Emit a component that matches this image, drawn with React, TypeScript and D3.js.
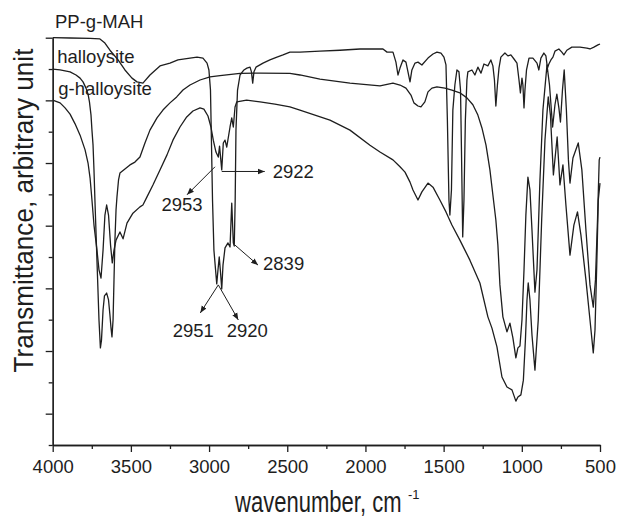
import React, { useRef, useEffect } from 'react';
import { select, scaleLinear, axisBottom, axisLeft, line } from 'd3';

// spectra: [wavenumber (cm-1), transmittance (arbitrary unit)]
const ppgMah: [number, number][] = [
	[4000, 1.2], [3889, 1.199], [3761, 1.198], [3698, 1.196], [3666, 1.183], [3634, 1.16],
	[3582, 1.129], [3538, 1.097], [3493, 1.071], [3461, 1.059], [3423, 1.055], [3378, 1.081],
	[3314, 1.11], [3250, 1.119], [3199, 1.129], [3122, 1.135], [3077, 1.138], [3039, 1.135],
	[3013, 1.119], [3001, 1.097], [2991, 1.033], [2985, 0.873], [2978, 0.682], [2969, 0.522],
	[2951, 0.414], [2943, 0.459], [2935, 0.5], [2927, 0.452], [2919, 0.398], [2911, 0.474],
	[2898, 0.529], [2879, 0.545], [2866, 0.532], [2855, 0.672], [2845, 0.545], [2839, 0.535],
	[2833, 0.682], [2828, 0.905], [2818, 1.033], [2802, 1.081], [2777, 1.097], [2758, 1.103],
	[2738, 1.106], [2729, 1.091], [2721, 1.055], [2713, 1.091], [2700, 1.106], [2655, 1.119],
	[2611, 1.129], [2566, 1.138], [2527, 1.145], [2483, 1.154], [2419, 1.154], [2291, 1.157],
	[2163, 1.16], [2035, 1.164], [1888, 1.164], [1862, 1.154], [1824, 1.154], [1805, 1.122],
	[1792, 1.081], [1779, 1.103], [1760, 1.129], [1741, 1.122], [1728, 1.091], [1715, 1.059],
	[1703, 1.097], [1683, 1.119], [1664, 1.122], [1639, 1.113], [1600, 1.135], [1568, 1.148],
	[1543, 1.154], [1517, 1.151], [1498, 1.138], [1485, 1.113], [1476, 0.937], [1466, 0.682],
	[1460, 0.634], [1450, 0.714], [1441, 0.969], [1428, 1.049], [1415, 1.097], [1402, 1.091],
	[1392, 1.033], [1386, 0.842], [1378, 0.564], [1370, 0.682], [1361, 0.937], [1351, 1.065],
	[1345, 1.091], [1319, 1.097], [1300, 1.081], [1281, 1.106], [1261, 1.087], [1242, 1.116],
	[1217, 1.11], [1198, 1.129], [1185, 1.11], [1175, 1.065], [1166, 0.982], [1156, 1.049],
	[1146, 1.103], [1134, 1.138], [1108, 1.151], [1089, 1.142], [1070, 1.145], [1050, 1.132],
	[1031, 1.119], [1018, 1.065], [1009, 1.024], [999, 1.071], [993, 1.049], [986, 0.976],
	[980, 1.033], [970, 1.097], [954, 1.135], [929, 1.135], [903, 1.119], [891, 1.097],
	[878, 1.135], [859, 1.151], [846, 1.142], [836, 1.103], [827, 1.116], [814, 1.129],
	[801, 1.138], [788, 1.157], [763, 1.164], [744, 1.154], [731, 1.145], [712, 1.16],
	[680, 1.17], [628, 1.17], [584, 1.167], [564, 1.164], [539, 1.17], [513, 1.177], [500, 1.18],
];

const halloysite: [number, number][] = [
	[4000, 1.1], [3953, 1.097], [3889, 1.091], [3851, 1.081], [3825, 1.071], [3806, 1.059],
	[3787, 1.039], [3774, 1.02], [3765, 0.995], [3755, 0.953], [3749, 0.905], [3742, 0.857],
	[3736, 0.778], [3730, 0.682], [3717, 0.49], [3704, 0.299], [3695, 0.21], [3688, 0.235],
	[3678, 0.331], [3669, 0.376], [3655, 0.385], [3643, 0.363], [3634, 0.315], [3627, 0.273],
	[3621, 0.245], [3614, 0.299], [3608, 0.427], [3602, 0.554], [3595, 0.65], [3589, 0.692],
	[3579, 0.746], [3570, 0.768], [3538, 0.781], [3506, 0.794], [3474, 0.803], [3442, 0.819],
	[3410, 0.864], [3378, 0.905], [3333, 0.944], [3295, 0.969], [3250, 0.992], [3207, 1.011],
	[3167, 1.033], [3122, 1.049], [3058, 1.065], [2994, 1.075], [2930, 1.079], [2802, 1.086],
	[2674, 1.087], [2483, 1.086], [2419, 1.081], [2291, 1.068], [2099, 1.055], [1907, 1.046],
	[1824, 1.055], [1779, 1.049], [1741, 1.039], [1709, 1.017], [1690, 0.992], [1664, 0.982],
	[1645, 0.979], [1620, 0.995], [1600, 1.027], [1575, 1.039], [1543, 1.043], [1492, 1.039],
	[1447, 1.033], [1396, 1.024], [1351, 1.008], [1313, 0.986], [1281, 0.953], [1255, 0.912],
	[1229, 0.857], [1204, 0.778], [1185, 0.698], [1166, 0.618], [1153, 0.538], [1140, 0.411],
	[1121, 0.309], [1095, 0.261], [1076, 0.289], [1057, 0.242], [1038, 0.178], [1025, 0.21],
	[1012, 0.216], [999, 0.299], [986, 0.459], [974, 0.634], [961, 0.755], [948, 0.714],
	[935, 0.586], [916, 0.388], [903, 0.459], [884, 0.746], [865, 0.969], [839, 1.113],
	[823, 1.049], [803, 0.915], [788, 0.986], [776, 1.02], [763, 0.976], [753, 0.931],
	[740, 1.033], [729, 1.097], [715, 0.969], [702, 0.81], [692, 0.736], [673, 0.816],
	[639, 0.864], [616, 0.778], [590, 0.586], [564, 0.411], [543, 0.34], [529, 0.427],
	[516, 0.618], [505, 0.81], [500, 0.819],
];

const gHalloysite: [number, number][] = [
	[4000, 1.001], [3953, 0.992], [3921, 0.976], [3889, 0.956], [3857, 0.925], [3825, 0.889],
	[3793, 0.842], [3774, 0.8], [3761, 0.752], [3749, 0.682], [3736, 0.602], [3717, 0.522],
	[3704, 0.459], [3691, 0.433], [3678, 0.522], [3666, 0.634], [3655, 0.666], [3643, 0.634],
	[3630, 0.538], [3619, 0.481], [3608, 0.522], [3595, 0.554], [3570, 0.58], [3550, 0.558],
	[3525, 0.608], [3487, 0.64], [3442, 0.66], [3423, 0.666], [3397, 0.692], [3359, 0.73],
	[3314, 0.778], [3269, 0.826], [3231, 0.873], [3186, 0.915], [3143, 0.947], [3103, 0.966],
	[3058, 0.976], [3033, 0.972], [3007, 0.95], [2988, 0.915], [2973, 0.873], [2956, 0.835],
	[2941, 0.819], [2933, 0.854], [2919, 0.778], [2909, 0.864], [2898, 0.873], [2887, 0.851],
	[2866, 0.915], [2855, 0.944], [2845, 0.915], [2834, 0.979], [2823, 0.995], [2760, 1.001],
	[2674, 0.995], [2579, 0.988], [2483, 0.979], [2419, 0.969], [2227, 0.937], [2099, 0.905],
	[1971, 0.857], [1907, 0.835], [1824, 0.81], [1779, 0.788], [1747, 0.771], [1715, 0.739],
	[1696, 0.714], [1664, 0.682], [1639, 0.708], [1600, 0.736], [1568, 0.723], [1524, 0.682],
	[1485, 0.644], [1447, 0.602], [1396, 0.554], [1364, 0.522], [1332, 0.49], [1268, 0.417],
	[1217, 0.309], [1191, 0.273], [1159, 0.213], [1127, 0.117], [1095, 0.085], [1063, 0.076],
	[1038, 0.04], [1025, 0.053], [1006, 0.06], [990, 0.107], [977, 0.235], [967, 0.363],
	[959, 0.417], [948, 0.363], [935, 0.251], [916, 0.139], [895, 0.299], [873, 0.618],
	[852, 0.873], [831, 1.011], [817, 0.953], [798, 0.762], [774, 0.883], [756, 0.73],
	[737, 0.794], [718, 0.666], [692, 0.506], [667, 0.602], [644, 0.644], [622, 0.57],
	[590, 0.427], [564, 0.299], [543, 0.194], [532, 0.267], [520, 0.49], [511, 0.682], [500, 0.736],
];

const seriesNames = ['PP-g-MAH', 'halloysite', 'g-halloysite'];
const xMajorTicks = [4000, 3500, 3000, 2500, 2000, 1500, 1000, 500];
const xMinorTicks = [3750, 3250, 2750, 2250, 1750, 1250, 750];
const yMajorTicks = [0, 0.2, 0.4, 0.6, 0.8, 1.0, 1.2];
const yMinorTicks = [-0.1, 0.1, 0.3, 0.5, 0.7, 0.9, 1.1];

// peak annotations
const peakLabels = ['2953', '2922', '2839', '2951', '2920'];
const peakWavenumbers = [2962, 2919, 2834, 2941, 2941];
const peakValues = [0.788, 0.773, 0.538, 0.411, 0.411];

const FONT = '"Liberation Sans", Arial, Helvetica, sans-serif';
const INK = '#1e1e1e';

function App() {
	const width = 618;
	const height = 517;
	const svgRef = useRef(null);

	useEffect(() => {
		const svg = select(svgRef.current);
		svg.selectAll('*').remove();

		const x = scaleLinear().domain([4000, 500]).range([52.7, 600]);
		const y = scaleLinear().domain([-0.1, 1.2]).range([445, 37.7]);

		svg
			.append('defs')
			.append('marker')
			.attr('id', 'arrowHead')
			.attr('viewBox', '0 0 10 10')
			.attr('refX', 10)
			.attr('refY', 5)
			.attr('markerWidth', 7)
			.attr('markerHeight', 7)
			.attr('orient', 'auto')
			.append('path')
			.attr('d', 'M0,1 L10,5 L0,9 Z')
			.attr('fill', INK);

		const styleAxis = (g) => {
			g.select('.domain').attr('stroke', INK).attr('stroke-width', 1.3);
			g.selectAll('.tick line').attr('stroke', INK).attr('stroke-width', 1.3);
			g.selectAll('.tick text')
				.attr('fill', INK)
				.style('font-family', FONT)
				.style('font-size', '18.5px');
		};

		// x axis
		svg
			.append('g')
			.attr('transform', 'translate(0,445)')
			.call(axisBottom(x).tickValues(xMinorTicks).tickSize(4).tickSizeOuter(0).tickFormat(() => ''))
			.call(styleAxis);
		svg
			.append('g')
			.attr('transform', 'translate(0,445)')
			.call(axisBottom(x).tickValues(xMajorTicks).tickSize(7).tickSizeOuter(0).tickPadding(8).tickFormat((d) => `${d}`))
			.call(styleAxis);

		// y axis
		svg
			.append('g')
			.attr('transform', 'translate(52.7,0)')
			.call(axisLeft(y).tickValues(yMinorTicks).tickSize(4).tickSizeOuter(0).tickFormat(() => ''))
			.call(styleAxis);
		svg
			.append('g')
			.attr('transform', 'translate(52.7,0)')
			.call(axisLeft(y).tickValues(yMajorTicks).tickSize(7).tickSizeOuter(0).tickFormat(() => ''))
			.call(styleAxis);

		// spectra
		const path = line()
			.x((d) => x(d[0]))
			.y((d) => y(d[1]));
		const spectra = [ppgMah, halloysite, gHalloysite];
		svg
			.selectAll('.spectrum')
			.data(spectra)
			.join('path')
			.attr('class', 'spectrum')
			.attr('d', path)
			.attr('fill', 'none')
			.attr('stroke', INK)
			.attr('stroke-width', 1.3)
			.attr('stroke-linejoin', 'round');

		// series names near the left end of each curve
		const nameDx = [2.3, 4.6, 5.6];
		const nameDy = [-9.4, -5.7, -5];
		svg
			.selectAll('.name')
			.data(seriesNames)
			.join('text')
			.attr('class', 'name')
			.attr('x', (d, i) => x(4000) + nameDx[i])
			.attr('y', (d, i) => y(spectra[i][0][1]) + nameDy[i])
			.attr('fill', INK)
			.style('font-family', FONT)
			.style('font-size', '18.5px')
			.text((d) => d);

		// peak arrows
		const arrowDx = [-28, 43, 23, -18, 20];
		const arrowDy = [28, 0, 20, 28, 35];
		const textDx = [-5, 8, 5, -7, 9];
		const textDy = [16, 6.5, 5, 24, 17];
		const textAnchor = ['middle', 'start', 'start', 'middle', 'middle'];
		peakLabels.forEach((label, i) => {
			const x0 = x(peakWavenumbers[i]);
			const y0 = y(peakValues[i]);
			const x1 = x0 + arrowDx[i];
			const y1 = y0 + arrowDy[i];
			svg
				.append('line')
				.attr('x1', x0)
				.attr('y1', y0)
				.attr('x2', x1)
				.attr('y2', y1)
				.attr('stroke', INK)
				.attr('stroke-width', 1)
				.attr('marker-end', 'url(#arrowHead)');
			svg
				.append('text')
				.attr('x', x1 + textDx[i])
				.attr('y', y1 + textDy[i])
				.attr('text-anchor', textAnchor[i])
				.attr('fill', INK)
				.style('font-family', FONT)
				.style('font-size', '18.5px')
				.text(label);
		});

		// axis titles (the reference uses a tall, narrow face: squeeze horizontally)
		svg
			.append('text')
			.attr('transform', 'translate(235,512) scale(0.76,1)')
			.attr('fill', INK)
			.style('font-family', FONT)
			.style('font-size', '29px')
			.text('wavenumber, cm');
		svg
			.append('text')
			.attr('x', 408)
			.attr('y', 499)
			.attr('fill', INK)
			.style('font-family', FONT)
			.style('font-size', '13px')
			.text('-1');

		svg
			.append('text')
			.attr('transform', 'translate(33,210.5) rotate(-90) scale(0.916,1)')
			.attr('text-anchor', 'middle')
			.attr('fill', INK)
			.style('font-family', FONT)
			.style('font-size', '28.5px')
			.text('Transmittance, arbitrary unit');
	}, []);

	return (
		<svg
			ref={svgRef}
			width={width}
			height={height}
			style={{ position: 'absolute', left: 0, top: 0, background: '#fff' }}
		></svg>
	);
}

export default App;
